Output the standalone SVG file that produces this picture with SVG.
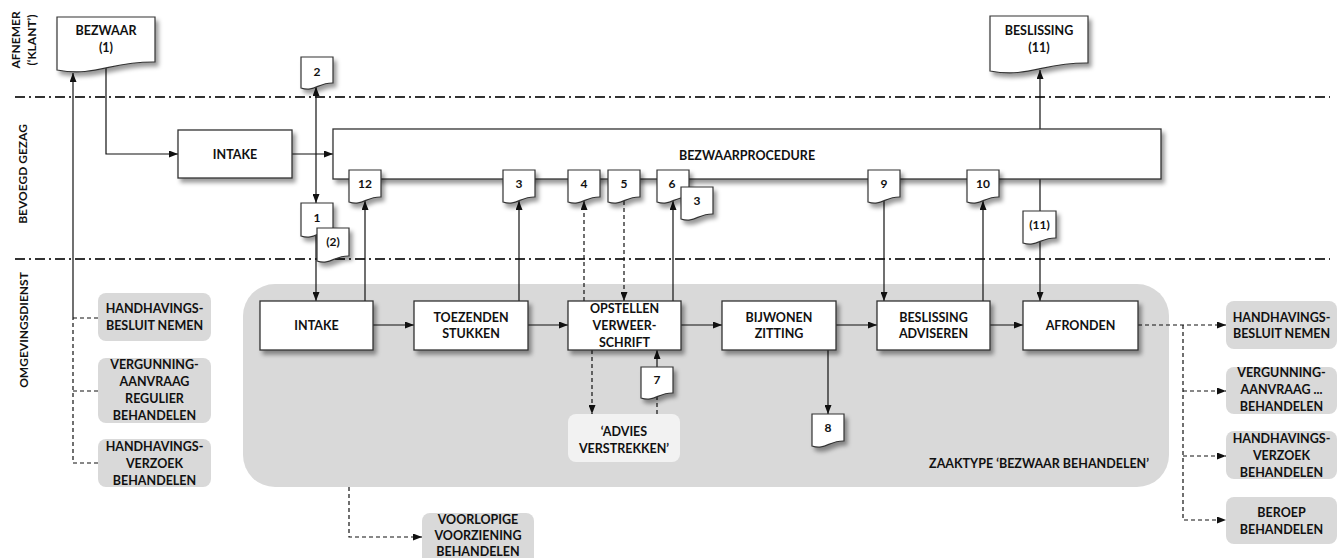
<svg xmlns="http://www.w3.org/2000/svg" width="1341" height="558" viewBox="0 0 1341 558">
<style>
text{font-family:Lato,'Liberation Sans',sans-serif;font-weight:bold;font-size:12.5px;fill:#111;text-anchor:middle}
.lbl{font-size:12px}
.num{font-size:12px}
.box{fill:#fff;stroke:#333;stroke-width:1.3;filter:url(#sh)}
.doc{fill:#fff;stroke:#333;stroke-width:1.2;filter:url(#sh)}
.grey{fill:#d9d9d9}
.light{fill:#f2f2f2}
.ln{fill:none;stroke:#111;stroke-width:1.2}
.arr{marker-end:url(#a)}
.dash{stroke-dasharray:4 3}
.lane{fill:none;stroke:#333;stroke-width:2;stroke-dasharray:10 4 2 4}
</style>
<defs>
<filter id="sh" x="-20%" y="-20%" width="150%" height="160%"><feDropShadow dx="3" dy="4" stdDeviation="2" flood-color="#000" flood-opacity="0.4"/></filter>
<marker id="a" viewBox="0 0 9 7" refX="9" refY="3.5" markerWidth="9" markerHeight="7" orient="auto-start-reverse" markerUnits="userSpaceOnUse"><path d="M0,0 L9,3.5 L0,7 Z" fill="#111"/></marker>
</defs>

<g id="lanes">
<path class="lane" d="M15,97 H1330"/>
<path class="lane" d="M15,259 H1330"/>
<text class="lbl" transform="translate(20,40) rotate(-90)">AFNEMER</text>
<text class="lbl" transform="translate(36,40) rotate(-90)">(‘KLANT’)</text>
<text class="lbl" transform="translate(27,174) rotate(-90)">BEVOEGD GEZAG</text>
<text class="lbl" transform="translate(28,330) rotate(-90)">OMGEVINGSDIENST</text>
</g>

<g id="zaaktype">
<rect class="grey" x="243" y="284" width="926" height="203" rx="32"/>
<text x="1149" y="467.5" style="text-anchor:end">ZAAKTYPE ‘BEZWAAR BEHANDELEN’</text>
</g>

<g id="left-handhavingsbesluit">
<rect class="grey" x="98" y="293" width="113" height="48" rx="8"/>
<text x="154.5" y="312.5">HANDHAVINGS-</text><text x="154.5" y="329.5">BESLUIT NEMEN</text>
</g>
<g id="left-vergunning">
<rect class="grey" x="98" y="358" width="113" height="65" rx="8"/>
<text x="154.5" y="368.5">VERGUNNING-</text><text x="154.5" y="385.5">AANVRAAG</text><text x="154.5" y="402.5">REGULIER</text><text x="154.5" y="419.5">BEHANDELEN</text>
</g>
<g id="left-handhavingsverzoek">
<rect class="grey" x="98" y="439" width="113" height="48" rx="8"/>
<text x="154.5" y="450.5">HANDHAVINGS-</text><text x="154.5" y="467.5">VERZOEK</text><text x="154.5" y="484.5">BEHANDELEN</text>
</g>

<g id="right-handhavingsbesluit">
<rect class="grey" x="1226" y="301" width="111" height="48" rx="8"/>
<text x="1281.5" y="321.5">HANDHAVINGS-</text><text x="1281.5" y="337.5">BESLUIT NEMEN</text>
</g>
<g id="right-vergunning">
<rect class="grey" x="1226" y="367" width="111" height="47" rx="8"/>
<text x="1281.5" y="377">VERGUNNING-</text><text x="1281.5" y="394">AANVRAAG ...</text><text x="1281.5" y="411">BEHANDELEN</text>
</g>
<g id="right-handhavingsverzoek">
<rect class="grey" x="1226" y="431" width="111" height="48" rx="8"/>
<text x="1281.5" y="442.5">HANDHAVINGS-</text><text x="1281.5" y="459.5">VERZOEK</text><text x="1281.5" y="476.5">BEHANDELEN</text>
</g>
<g id="right-beroep">
<rect class="grey" x="1226" y="497" width="111" height="47" rx="8"/>
<text x="1281.5" y="516.5">BEROEP</text><text x="1281.5" y="533.5">BEHANDELEN</text>
</g>

<g id="advies">
<rect class="light" x="568" y="414" width="112" height="48" rx="8"/>
<text x="624" y="435.5">‘ADVIES</text><text x="624" y="452.5">VERSTREKKEN’</text>
</g>
<g id="voorlopige">
<rect class="grey" x="422" y="513" width="112" height="60" rx="8"/>
<text x="478" y="524">VOORLOPIGE</text><text x="478" y="540">VOORZIENING</text><text x="478" y="556">BEHANDELEN</text>
</g>

<g id="connectors">
<path class="ln arr" d="M106,68 V154 H178"/>
<path class="ln arr" d="M292,154 H333"/>
<path class="ln arr" style="marker-start:url(#a)" d="M316,87 V203"/>
<path class="ln arr" d="M316,235 V301"/>
<path class="ln arr" d="M365,301 V201"/>
<path class="ln arr" d="M519,301 V201"/>
<path class="ln arr dash" d="M584,301 V201"/>
<path class="ln arr dash" d="M624,201 V301"/>
<path class="ln arr" d="M673,301 V201"/>
<path class="ln arr" d="M884,201 V301"/>
<path class="ln arr" d="M983,301 V201"/>
<path class="ln" d="M1040,179 V211"/>
<path class="ln arr" d="M1040,242 V301"/>
<path class="ln arr" d="M1040,129 V70"/>
<path class="ln arr" d="M373,325 H414"/>
<path class="ln arr" d="M528,325 H568"/>
<path class="ln arr" d="M681,325 H722"/>
<path class="ln arr" d="M836,325 H877"/>
<path class="ln arr" d="M990,325 H1023"/>
<path class="ln arr dash" d="M592,350 V414"/>
<path class="ln arr" d="M657,367 V350"/>
<path class="ln dash" d="M657,414 V397"/>
<path class="ln arr" d="M828,350 V414"/>
<path class="ln arr dash" d="M1138,325 H1226"/>
<path class="ln arr dash" d="M1183,325 V520 H1226"/>
<path class="ln arr dash" d="M1183,391 H1226"/>
<path class="ln arr dash" d="M1183,456 H1226"/>
<path class="ln arr dash" d="M349,487 V537 H422"/>
<path class="ln dash" d="M98,463 H73 V318 M98,391 H73 M98,318 H73"/>
<path class="ln arr" d="M73,318 V73"/>
</g>

<g id="bezwaar">
<path class="doc" d="M57,17 H155 V62 C110.9,61.2 96.2,77.2 57,70 Z"/>
<text x="106" y="34.5">BEZWAAR</text><text x="106" y="51.5">(1)</text>
</g>
<g id="beslissing">
<path class="doc" d="M990,16 H1088 V63 C1043.9,62.2 1029.2,78.2 990,71 Z"/>
<text x="1039" y="34.5">BESLISSING</text><text x="1039" y="51.5">(11)</text>
</g>
<g id="intake-bg">
<rect class="box" x="178" y="130" width="114" height="48"/>
<text x="235" y="158.5">INTAKE</text>
</g>
<g id="bezwaarprocedure">
<rect class="box" x="333" y="129" width="828" height="50"/>
<text x="747" y="159.5">BEZWAARPROCEDURE</text>
</g>

<g id="doc-2"><path class="doc" d="M301,57 H333 V83 C318.6,82.5 313.8,92.5 301,88 Z"/><text class="num" x="317" y="75.5">2</text></g>
<g id="doc-1"><path class="doc" d="M301,203 H333 V231 C318.6,230.5 313.8,240.5 301,236 Z"/><text class="num" x="317" y="221.5">1</text></g>
<g id="doc-2b"><path class="doc" d="M317,228 H349 V256 C334.6,255.5 329.8,265.5 317,261 Z"/><text class="num" x="333" y="245.5">(2)</text></g>
<g id="doc-12"><path class="doc" d="M349,170 H381 V197 C366.6,196.5 361.8,206.5 349,202 Z"/><text class="num" x="365" y="187.5">12</text></g>
<g id="doc-3"><path class="doc" d="M503,170 H535 V197 C520.6,196.5 515.8,206.5 503,202 Z"/><text class="num" x="519" y="187.5">3</text></g>
<g id="doc-4"><path class="doc" d="M568,170 H600 V197 C585.6,196.5 580.8,206.5 568,202 Z"/><text class="num" x="584" y="187.5">4</text></g>
<g id="doc-5"><path class="doc" d="M608,170 H640 V197 C625.6,196.5 620.8,206.5 608,202 Z"/><text class="num" x="624" y="187.5">5</text></g>
<g id="doc-6"><path class="doc" d="M657,170 H689 V197 C674.6,196.5 669.8,206.5 657,202 Z"/><text class="num" x="672" y="187.5">6</text></g>
<g id="doc-3b"><path class="doc" d="M681,187 H713 V214 C698.6,213.5 693.8,223.5 681,219 Z"/><text class="num" x="697" y="204.5">3</text></g>
<g id="doc-9"><path class="doc" d="M868,170 H900 V197 C885.6,196.5 880.8,206.5 868,202 Z"/><text class="num" x="884" y="187.5">9</text></g>
<g id="doc-10"><path class="doc" d="M967,170 H999 V197 C984.6,196.5 979.8,206.5 967,202 Z"/><text class="num" x="983" y="187.5">10</text></g>
<g id="doc-11"><path class="doc" d="M1023,211 H1056 V238 C1041,237.5 1036,247.5 1023,243 Z"/><text class="num" x="1039.5" y="228.5">(11)</text></g>
<g id="doc-7"><path class="doc" d="M641,367 H673 V393 C658.6,392.5 653.8,402.5 641,398 Z"/><text class="num" x="657" y="383.5">7</text></g>
<g id="doc-8"><path class="doc" d="M812,414 H844 V441 C829.6,440.5 824.8,450.5 812,446 Z"/><text class="num" x="828" y="431.5">8</text></g>

<g id="intake"><rect class="box" x="260" y="301" width="113" height="49"/><text x="316.5" y="329.5">INTAKE</text></g>
<g id="toezenden"><rect class="box" x="414" y="301" width="114" height="49"/><text x="471" y="321.5">TOEZENDEN</text><text x="471" y="337.5">STUKKEN</text></g>
<g id="opstellen"><rect class="box" x="568" y="301" width="113" height="49"/><text x="624.5" y="312.5">OPSTELLEN</text><text x="624.5" y="329.5">VERWEER-</text><text x="624.5" y="346.5">SCHRIFT</text></g>
<g id="bijwonen"><rect class="box" x="722" y="301" width="114" height="49"/><text x="779" y="321.5">BIJWONEN</text><text x="779" y="337.5">ZITTING</text></g>
<g id="beslissing-adviseren"><rect class="box" x="877" y="301" width="113" height="49"/><text x="933.5" y="321.5">BESLISSING</text><text x="933.5" y="337.5">ADVISEREN</text></g>
<g id="afronden"><rect class="box" x="1023" y="301" width="115" height="49"/><text x="1080.5" y="329.5">AFRONDEN</text></g>
</svg>
